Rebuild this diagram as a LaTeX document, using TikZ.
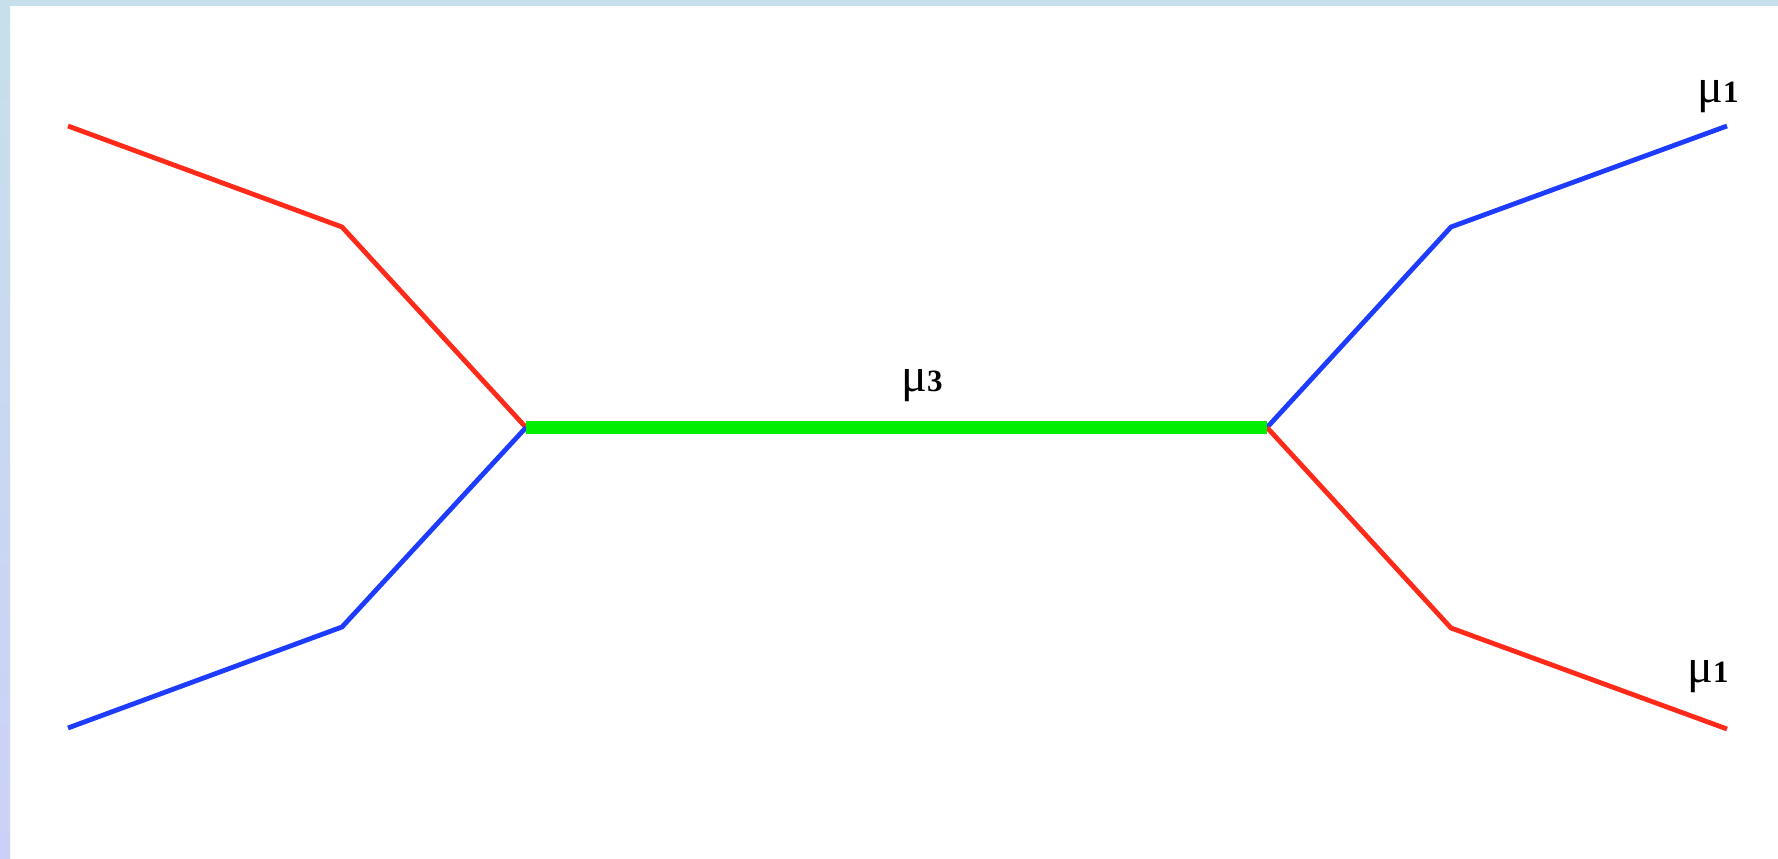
\documentclass[tikz,border=0pt]{standalone}
\usepackage{fontspec}
\setmainfont{Liberation Serif}
\usetikzlibrary{positioning,calc}
\definecolor{legR}{HTML}{FF2A1A}
\definecolor{legB}{HTML}{1E3CFF}
\definecolor{propG}{HTML}{00EE00}
\definecolor{cadreH}{HTML}{C5E0EB}
\definecolor{cadreB}{HTML}{CCD0F8}
\tikzset{
  jambe/.style={line width=4.8pt, draw=#1, line join=round},
  propag/.style={line width=12.5pt, draw=propG},
  masse/.style={anchor=base, inner sep=0pt, font=\fontsize{48}{50}\selectfont},
}
\newcommand{\mass}[1]{μ{\fontsize{31}{33}\selectfont\bfseries #1}}

\begin{document}
\begin{tikzpicture}[x=1pt,y=1pt]
    \useasboundingbox (0,0) rectangle (1778,859);
    \fill[white] (0,0) rectangle (1778,859);
    \shade[top color=cadreH, bottom color=cadreB] (0,0) rectangle (10,859);
    \fill[cadreH] (0,853) rectangle (1778,859);
    % sommets
    \coordinate (vg) at (526,431.5);
    \coordinate (vd) at (1267,431.5);
    \coordinate (hg) at (342,632);
    \coordinate (bg) at (342,232);
    \coordinate (hd) at (1451,632);
    \coordinate (bd) at (1451,231);
    \coordinate (ehg) at (68,733);
    \coordinate (ebg) at (68,131);
    \coordinate (ehd) at (1727,733);
    \coordinate (ebd) at (1727,130);
    % pattes
    \draw[jambe=legR] (ehg) -- (hg) -- (vg);
    \draw[jambe=legB] (ebg) -- (bg) -- (vg);
    \draw[jambe=legB] (vd) -- (hd) -- (ehd);
    \draw[jambe=legR] (vd) -- (bd) -- (ebd);
    \draw[propag] (vg) -- (vd);
    % masses
    \node[masse] (m3) at (922,467) {\mass{3}};
    \node[masse] (m1h) at (1718,756) {\mass{1}};
    \node[masse] (m1b) at (1708,176) {\mass{1}};
\end{tikzpicture}
\end{document}
